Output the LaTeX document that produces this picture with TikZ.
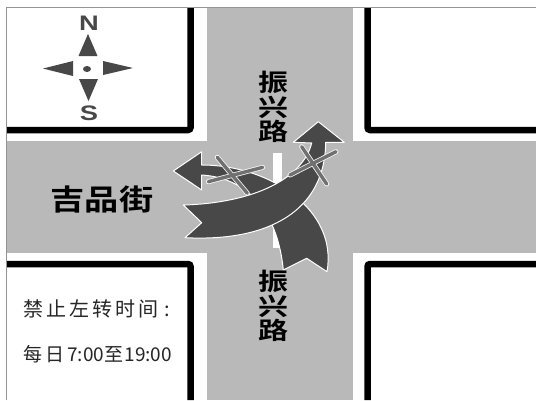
\documentclass[tikz,border=0pt]{standalone}
\usepackage{fontspec}
\setmainfont{Liberation Sans}
\newfontfamily\cjk{Noto Sans CJK SC}
\newfontfamily\cjkb{Noto Sans CJK SC Bold}
\definecolor{road}{HTML}{B9B9B9}
\definecolor{dark}{HTML}{484848}
\definecolor{crossc}{HTML}{707070}
\tikzset{
  block/.style={line width=6.5pt,draw=black,rounded corners=2.5pt},
  bigarrow/.style={fill=dark,draw=white,line width=1pt,line join=round},
  xout/.style={line cap=round,line width=5pt,draw=white!85!road},
  xin/.style={line cap=round,line width=3.4pt,draw=crossc},
  tri/.style={fill=dark,draw=none},
  roadname/.style={font=\cjkb\fontsize{24}{24.3}\selectfont,align=center,inner sep=0pt,text=black},
  note/.style={anchor=west,inner sep=0pt,text=black!85}
}
\begin{document}
\begin{tikzpicture}[x=1pt,y=-1pt]
\useasboundingbox (0,0) rectangle (536,400);
\fill[white] (0,0) rectangle (536,400);
% roads
\fill[road] (6,141) rectangle (536,253);
\fill[road] (207,8) rectangle (353,400);
% borders
\draw[road!80!black,line width=1.4pt] (6.5,400) -- (6.5,7.5) -- (536,7.5);
% kerbs
\draw[block] (7,130) -- (190.5,130) -- (190.5,8);
\draw[block] (536,130) -- (367.5,130) -- (367.5,8);
\draw[block] (7,264) -- (190.5,264) -- (190.5,400);
\draw[block] (536,264) -- (367.5,264) -- (367.5,400);
% centre line
\fill[white] (273,153) rectangle (282,248);
% compass
\node[inner sep=0pt,text=dark] (north) at (89,23) {\scalebox{1.3}[1]{\fontsize{21}{21}\selectfont\bfseries N}};
\node[inner sep=0pt,text=dark] (south) at (89,113) {\scalebox{1.3}[1]{\fontsize{21}{21}\selectfont\bfseries S}};
\fill[tri] (88,34) -- (97.5,56) -- (78.5,56) -- cycle;
\fill[tri] (88.5,101) -- (98,79) -- (79,79) -- cycle;
\fill[tri] (43,68.5) -- (73,61) -- (73,76) -- cycle;
\fill[tri] (133,68) -- (103,61) -- (103,75) -- cycle;
\fill[tri] (87,69) ellipse (4 and 3);
% second arrow (north-west)
\draw[bigarrow] (173.3,171) -- (201.7,151.7) -- (201.7,165)
  .. controls (270,165) and (338,210) .. (327,271.7)
  -- (306.7,258.3) -- (283.3,270)
  .. controls (278,215) and (250,178) .. (201.7,175)
  -- (201.7,190) -- cycle;
% crosses on the north-west arrow
\draw[xout] (217.3,157.3) -- (247.3,193.3);
\draw[xout] (208.3,181.7) -- (262.7,167.3);
\draw[xin] (217.3,157.3) -- (247.3,193.3);
\draw[xin] (208.3,181.7) -- (262.7,167.3);
% first arrow (north-east)
\draw[bigarrow] (183.3,205) -- (201.7,222.7) -- (185,237.7)
  .. controls (270,242) and (325,210) .. (325.7,142.3)
  -- (344.3,142.3) -- (318.3,121.7) -- (293.3,142.3) -- (311.7,143)
  .. controls (303,178) and (255,203) .. (183.3,205) -- cycle;
% cross on the north-east arrow
\draw[xout] (301.7,146.7) -- (326.7,184);
\draw[xout] (290,175) -- (336,151.7);
\draw[xin] (301.7,146.7) -- (326.7,184);
\draw[xin] (290,175) -- (336,151.7);
% road names
\node[roadname] (rn) at (273,107) {\scalebox{1.25}[1]{振}\\\scalebox{1.25}[1]{兴}\\\scalebox{1.25}[1]{路}};
\node[roadname] (rs) at (273,306) {\scalebox{1.25}[1]{振}\\\scalebox{1.25}[1]{兴}\\\scalebox{1.25}[1]{路}};
\node[roadname,font=\cjkb\fontsize{29}{30}\selectfont] (rw) at (102,200) {\scalebox{1.18}[1]{吉品街}};
% note
\node[note] (n1) at (23,309) {\cjk\fontsize{20}{22}\selectfont\addfontfeature{LetterSpace=15}禁止左转时间\hspace{6pt}:};
\node[note] (n2) at (23,354) {\cjk\fontsize{19}{22}\selectfont 每\hspace{3pt}日\hspace{3pt}7:00\hspace{0.5pt}至\hspace{1pt}19:00};
\end{tikzpicture}
\end{document}
